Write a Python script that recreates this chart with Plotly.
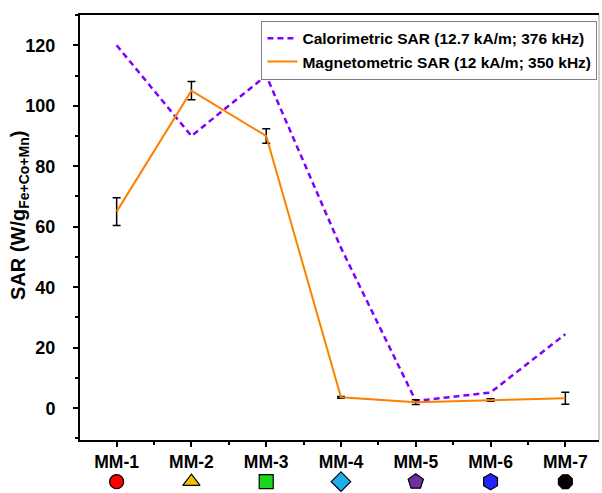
import plotly.graph_objects as go

samples = ["MM-1", "MM-2", "MM-3", "MM-4", "MM-5", "MM-6", "MM-7"]
positions = [1, 2, 3, 4, 5, 6, 7]
calorimetric_sar = [120, 90, 110, 53, 2.4, 5.2, 24.5]
magnetometric_sar = [65, 105, 90, 3.6, 2.0, 2.7, 3.3]
magnetometric_err = [4.6, 3.0, 2.4, 0.3, 0.8, 0.4, 2.0]
sample_symbols = ["circle", "triangle-up", "square", "diamond", "pentagon", "hexagon", "octagon"]
sample_colors = ["#FF0000", "#F2C200", "#1AD61A", "#1EAEEB", "#7030A0", "#2222FF", "#000000"]
y_ticks = [0, 20, 40, 60, 80, 100, 120]

FONT = "Liberation Sans, Arial, sans-serif"

fig = go.Figure()
fig.add_trace(go.Scatter(
    x=positions, y=calorimetric_sar, mode="lines",
    name="Calorimetric SAR (12.7 kA/m; 376 kHz)",
    line=dict(color="#8000FF", width=2.5, dash="6px,4px"),
))
fig.add_trace(go.Scatter(
    x=positions, y=magnetometric_sar, mode="lines",
    name="Magnetometric SAR (12 kA/m; 350 kHz)",
    line=dict(color="#FF8000", width=2),
    error_y=dict(type="data", array=magnetometric_err, visible=True,
                 color="#000000", thickness=1.5, width=4),
))
# symbol row under the category labels, on its own strip axis
fig.add_trace(go.Scatter(
    x=positions, y=[0.5] * len(positions), mode="markers", yaxis="y2",
    showlegend=False, cliponaxis=False, hoverinfo="skip",
    marker=dict(symbol=sample_symbols, color=sample_colors, opacity=1,
                size=[14, 15, 14, 15, 16, 16, 15],
                line=dict(color="#000000", width=1.2)),
))

fig.update_layout(
    template="none",
    width=602, height=493,
    margin=dict(l=80, r=3, t=15, b=0, autoexpand=False),
    paper_bgcolor="white", plot_bgcolor="white",
    font=dict(family=FONT, color="#000000", weight="bold"),
    showlegend=True,
    legend=dict(
        x=0.997, y=0.988, xanchor="right", yanchor="top",
        bgcolor="white", bordercolor="#808080", borderwidth=1,
        font=dict(family=FONT, size=15.5, color="#000000", weight="bold"),
        tracegroupgap=0,
    ),
    xaxis=dict(
        range=[0.51, 7.45], tickmode="array", tickvals=positions, ticktext=samples,
        anchor="y",
        showgrid=False, zeroline=False, automargin=False,
        showline=True, linecolor="#000000", linewidth=2, mirror=True,
        ticks="outside", ticklen=5, tickwidth=2, tickcolor="#000000",
        tickfont=dict(family=FONT, size=17.5, weight="bold"),
        minor=dict(tickvals=[1.5, 2.5, 3.5, 4.5, 5.5, 6.5], ticks="outside",
                   ticklen=3, tickwidth=2, tickcolor="#000000"),
    ),
    yaxis=dict(
        domain=[0.1109, 1],
        range=[-10.5, 130], tickmode="array", tickvals=y_ticks,
        showgrid=False, zeroline=False, automargin=False,
        showline=True, linecolor="#000000", linewidth=2,
        ticks="outside", ticklen=5, tickwidth=2, tickcolor="#000000",
        ticklabelstandoff=14,
        tickfont=dict(family=FONT, size=18, weight="bold"),
        minor=dict(dtick=10, tick0=0, ticks="outside", ticklen=3,
                   tickwidth=2, tickcolor="#000000"),
    ),
    yaxis2=dict(
        domain=[0, 0.0473], range=[0, 1], anchor="x",
        visible=False, showgrid=False, zeroline=False, fixedrange=True,
    ),
    annotations=[dict(
        text="SAR (W/g<sub>Fe+Co+Mn</sub>)", textangle=-90,
        xref="paper", yref="y domain", x=-0.118, y=0.529,
        xanchor="center", yanchor="middle", showarrow=False,
        font=dict(family=FONT, size=20, weight="bold", color="#000000"),
    )],
    shapes=[dict(type="line", xref="x domain", yref="y domain", x0=1, x1=1, y0=0, y1=1,
                 line=dict(color="#A0A0A0", width=1))],
)

fig.write_html("out.html", config={"displayModeBar": False},
               post_script="document.body.style.margin='0';document.body.style.padding='0';")
